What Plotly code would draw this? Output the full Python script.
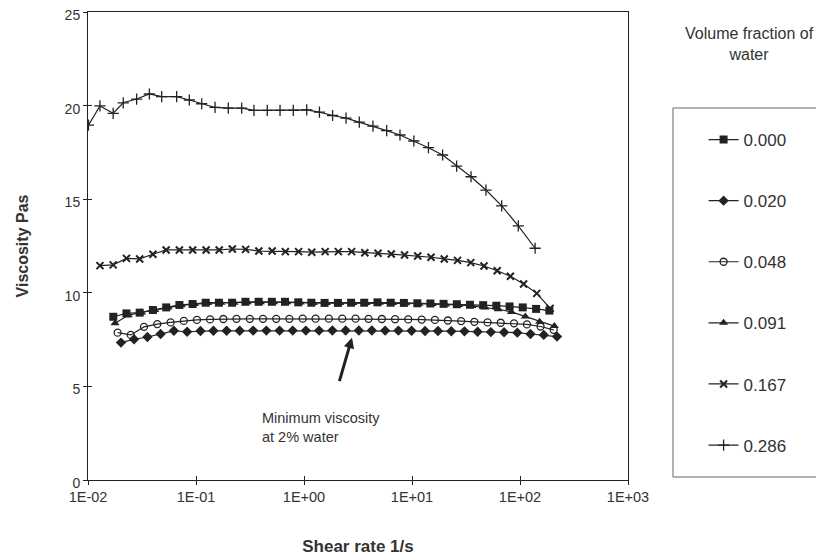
import plotly.graph_objects as go

# ---------------- data ----------------
series_names = ["0.000", "0.020", "0.048", "0.091", "0.167", "0.286"]

x_000 = [0.01715, 0.0227, 0.0301, 0.0399, 0.0530, 0.0702, 0.0930, 0.123, 0.163, 0.216,
         0.287, 0.380, 0.504, 0.667, 0.885, 1.17, 1.55, 2.06, 2.73, 3.61,
         4.79, 6.35, 8.41, 11.2, 14.8, 19.6, 26.0, 34.4, 45.6, 60.4,
         80.1, 106, 141, 187]
y_000 = [8.72, 8.90, 8.94, 9.08, 9.22, 9.35, 9.40, 9.47, 9.47, 9.47,
         9.52, 9.52, 9.52, 9.52, 9.49, 9.47, 9.46, 9.46, 9.47, 9.47,
         9.49, 9.47, 9.46, 9.44, 9.43, 9.41, 9.39, 9.36, 9.34, 9.31,
         9.27, 9.22, 9.14, 9.05]

x_020 = [0.0202, 0.0267, 0.0355, 0.0470, 0.0624, 0.0827, 0.110, 0.145, 0.192, 0.254,
         0.338, 0.448, 0.594, 0.786, 1.04, 1.38, 1.83, 2.43, 3.22, 4.25,
         5.64, 7.48, 9.91, 13.2, 17.4, 23.1, 30.6, 40.5, 53.7, 71.2,
         94.4, 125, 166, 220]
y_020 = [7.34, 7.52, 7.64, 7.80, 7.97, 7.92, 7.96, 7.97, 7.97, 7.97,
         7.98, 7.98, 7.98, 7.98, 7.98, 7.98, 7.99, 7.99, 7.99, 7.99,
         7.98, 7.98, 7.97, 7.96, 7.96, 7.95, 7.94, 7.92, 7.90, 7.89,
         7.87, 7.80, 7.75, 7.66]

x_048 = [0.0188, 0.0249, 0.0330, 0.0438, 0.0582, 0.0771, 0.102, 0.135, 0.179, 0.237,
         0.315, 0.417, 0.553, 0.732, 0.972, 1.28, 1.70, 2.26, 3.00, 3.96,
         5.26, 6.97, 9.23, 12.3, 16.3, 21.5, 28.5, 37.8, 50.1, 66.3,
         88.0, 116, 155, 205]
y_048 = [7.87, 7.75, 8.18, 8.33, 8.42, 8.50, 8.55, 8.58, 8.60, 8.61,
         8.61, 8.61, 8.61, 8.61, 8.62, 8.62, 8.62, 8.62, 8.62, 8.61,
         8.60, 8.59, 8.58, 8.57, 8.55, 8.52, 8.49, 8.45, 8.42, 8.40,
         8.37, 8.31, 8.20, 8.02]

x_091 = [0.0178, 0.0236, 0.0313, 0.0415, 0.0551, 0.0730, 0.0967, 0.128, 0.170, 0.225,
         0.298, 0.395, 0.524, 0.694, 0.920, 1.22, 1.61, 2.14, 2.84, 3.75,
         4.98, 6.60, 8.75, 11.6, 15.4, 20.4, 27.0, 35.8, 47.4, 62.8,
         83.3, 112, 152, 208]
y_091 = [8.37, 8.80, 8.95, 9.08, 9.22, 9.33, 9.40, 9.45, 9.47, 9.47,
         9.50, 9.50, 9.50, 9.50, 9.48, 9.46, 9.45, 9.45, 9.46, 9.46,
         9.47, 9.45, 9.44, 9.42, 9.40, 9.38, 9.35, 9.30, 9.22, 9.12,
         8.98, 8.74, 8.46, 8.22]

x_167 = [0.0129, 0.0171, 0.0227, 0.0301, 0.0399, 0.0529, 0.0702, 0.0931, 0.124, 0.164,
         0.217, 0.288, 0.382, 0.507, 0.672, 0.891, 1.18, 1.57, 2.08, 2.76,
         3.66, 4.85, 6.43, 8.53, 11.3, 15.0, 19.9, 26.4, 35.0, 46.4,
         61.5, 81.5, 108, 143, 190]
y_167 = [11.45, 11.49, 11.84, 11.81, 12.06, 12.29, 12.29, 12.29, 12.29, 12.29,
         12.34, 12.32, 12.23, 12.23, 12.20, 12.20, 12.17, 12.20, 12.20, 12.20,
         12.14, 12.11, 12.07, 12.02, 11.97, 11.90, 11.81, 11.73, 11.61, 11.43,
         11.18, 10.88, 10.47, 9.97, 9.17]

x_286 = [0.0101, 0.0129, 0.0171, 0.0212, 0.0282, 0.0370, 0.0481, 0.0662, 0.0867, 0.113,
         0.150, 0.199, 0.265, 0.344, 0.457, 0.600, 0.796, 1.06, 1.39, 1.84,
         2.45, 3.25, 4.35, 5.83, 7.74, 10.4, 14.2, 19.2, 25.9, 35.2,
         48.4, 67.7, 96.4, 138]
y_286 = [18.96, 19.98, 19.59, 20.15, 20.35, 20.62, 20.48, 20.48, 20.30, 20.10,
         19.90, 19.86, 19.86, 19.75, 19.75, 19.75, 19.75, 19.77, 19.65, 19.47,
         19.33, 19.12, 18.90, 18.66, 18.43, 18.11, 17.75, 17.36, 16.77, 16.20,
         15.49, 14.64, 13.58, 12.38]

x_tickvals = [0.01, 0.1, 1, 10, 100, 1000]
x_ticktext = ["1E-02", "1E-01", "1E+00", "1E+01", "1E+02", "1E+03"]
y_tickvals = [0, 5, 10, 15, 20, 25]

# ---------------- style ----------------
INK = "#222222"
TXT = "#333333"
FONT = "Liberation Sans, Arial, sans-serif"

xs = [x_000, x_020, x_048, x_091, x_167, x_286]
ys = [y_000, y_020, y_048, y_091, y_167, y_286]
markers = [
    dict(symbol="square", size=8, color=INK),
    dict(symbol="diamond", size=8, color=INK),
    dict(symbol="circle-open", size=7, color=INK, line=dict(width=1.3, color=INK)),
    dict(symbol="triangle-up", size=8, color=INK),
    dict(symbol="x-thin", size=7, color=INK, line=dict(width=2, color=INK)),
    dict(symbol="cross-thin", size=8, color=INK, line=dict(width=1.3, color=INK)),
]

fig = go.Figure()
for i, name in enumerate(series_names):
    fig.add_trace(go.Scatter(
        x=xs[i], y=ys[i], name=name, mode="lines+markers",
        line=dict(color=INK, width=1.2), marker=markers[i],
        legendgroup=name,
    ))

# dummy trace to activate overlay axes (inside ticks)
fig.add_trace(go.Scatter(x=[None], y=[None], xaxis="x2", yaxis="y2",
                         showlegend=False, hoverinfo="skip"))

tick_common = dict(showgrid=False, zeroline=False, tickcolor=INK, tickwidth=1)

# the page body adds an 8px offset, so the figure is 8px smaller and margins shifted
fig.update_layout(
    width=816, height=551,
    margin=dict(l=80, r=196, t=4, b=79, autoexpand=False),
    plot_bgcolor="white", paper_bgcolor="white",
    font=dict(family=FONT, color=TXT, size=14),
    xaxis=dict(type="log", range=[-2, 3], tickvals=x_tickvals, ticktext=x_ticktext,
               ticks="outside", ticklen=4, mirror=True, showline=True,
               linecolor=INK, linewidth=1, ticklabeloverflow="allow",
               tickfont=dict(size=14.5, color=TXT),
               title=dict(text="<b>Shear rate 1/s</b>", font=dict(size=17, color=TXT), standoff=35),
               **tick_common),
    yaxis=dict(range=[0, 25], tickvals=y_tickvals, ticks="outside", ticklen=4,
               mirror=True, showline=True, linecolor=INK, linewidth=1,
               ticklabeloverflow="allow", ticklabelshift=3,
               tickfont=dict(size=14, color=TXT),
               title=dict(text="<b>Viscosity Pas</b>", font=dict(size=16, color=TXT), standoff=32),
               **tick_common),
    xaxis2=dict(type="log", range=[-2, 3], tickvals=x_tickvals, overlaying="x",
                anchor="y", side="bottom", ticks="inside", ticklen=4,
                showticklabels=False, showline=False, **tick_common),
    yaxis2=dict(range=[0, 25], tickvals=y_tickvals, overlaying="y", anchor="x",
                side="left", ticks="inside", ticklen=4,
                showticklabels=False, showline=False, **tick_common),
    legend=dict(x=1.14, y=0.765, xanchor="left", yanchor="top",
                font=dict(size=17, color=TXT), borderwidth=0,
                bgcolor="rgba(0,0,0,0)", tracegroupgap=36, itemwidth=30),
    showlegend=True,
)

# legend frame and title
fig.add_shape(type="rect", xref="paper", yref="paper",
              x0=1.0833, x1=1.3519, y0=0.0064, y1=0.7949,
              line=dict(color="#666", width=1))
fig.add_annotation(xref="paper", yref="paper", x=1.2259, y=0.932,
                   text="Volume fraction of<br>water", showarrow=False,
                   font=dict(size=16, color=TXT), align="center",
                   xanchor="center", yanchor="middle")

# annotation text and arrow
fig.add_annotation(x=-0.407, y=2.83, text="Minimum viscosity<br>at 2% water",
                   showarrow=False, xanchor="left", yanchor="middle", align="left",
                   font=dict(size=14.5, color=TXT))
fig.add_annotation(x=0.444, y=7.6, ax=0.324, ay=5.2, xref="x", yref="y",
                   axref="x", ayref="y", text="", showarrow=True,
                   arrowhead=2, arrowsize=0.7, arrowwidth=3, arrowcolor=INK)

fig.write_html("out.html")
